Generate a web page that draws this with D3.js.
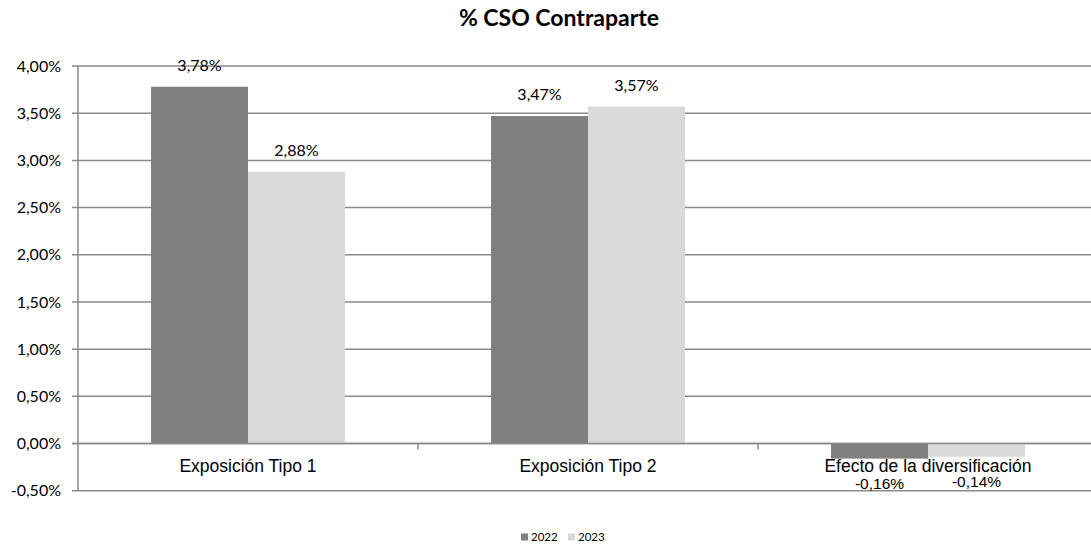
<!DOCTYPE html>
<html><head><meta charset="utf-8">
<script src="https://cdn.jsdelivr.net/npm/d3@7"></script>
<style>body{margin:0;background:#fff}svg{display:block}</style>
</head><body>
<svg id="c" width="1091" height="545"></svg>
<script>
const categories = ["Exposición Tipo 1", "Exposición Tipo 2", "Efecto de la diversificación"];
const seriesNames = ["2022", "2023"];
const values2022 = [3.78, 3.47, -0.16];
const values2023 = [2.88, 3.57, -0.14];
const yTicks = [-0.5, 0, 0.5, 1, 1.5, 2, 2.5, 3, 3.5, 4];
const colors = ["#808080", "#d9d9d9"];

(function(){
const svg = d3.select("#c");
const pLeft = 78, pRight = 1098, pTop = 66, pBottom = 490.7;
const x = d3.scaleBand().domain(categories).range([pLeft, pRight]).paddingInner(0).paddingOuter(0);
const y = d3.scaleLinear().domain([-0.5, 4]).range([pBottom, pTop]);
const xs = d3.scaleBand().domain(seriesNames).range([0, x.bandwidth()]).paddingInner(0).paddingOuter(0.753);
const fmt = v => d3.format(".2f")(v).replace(".", ",").replace("\u2212", "-") + "%";
const calib = "Lato, 'Open Sans', sans-serif";
const arial = "'Liberation Sans', Arial, sans-serif";

svg.append("g").selectAll("line").data(yTicks).join("line")
  .attr("x1", pLeft - 6).attr("x2", pRight).attr("y1", d => y(d)).attr("y2", d => y(d))
  .attr("stroke", "#8a8a8a").attr("stroke-width", 1.5);

svg.append("g").selectAll("text").data(yTicks).join("text")
  .attr("x", 61).attr("y", d => y(d)).attr("dy", "0.35em").attr("text-anchor", "end")
  .attr("font-family", calib).attr("font-size", 16).attr("fill", "#000")
  .text(fmt);

svg.append("line").attr("x1", pLeft).attr("x2", pLeft).attr("y1", pTop).attr("y2", pBottom)
  .attr("stroke", "#8a8a8a").attr("stroke-width", 1.5);

const series = [values2022, values2023];
series.forEach((vals, si) => {
  svg.append("g").selectAll("rect").data(vals).join("rect")
    .attr("x", (d, i) => x(categories[i]) + xs(seriesNames[si]))
    .attr("width", xs.bandwidth())
    .attr("y", d => y(Math.max(0, d)))
    .attr("height", d => Math.abs(y(d) - y(0)))
    .attr("fill", colors[si]);
});

svg.append("line").attr("x1", pLeft - 6).attr("x2", pRight).attr("y1", y(0)).attr("y2", y(0))
  .attr("stroke", "#8a8a8a").attr("stroke-width", 1.5);

svg.append("g").selectAll("line").data(categories.slice(1)).join("line")
  .attr("x1", d => x(d)).attr("x2", d => x(d)).attr("y1", y(0)).attr("y2", y(0) + 6)
  .attr("stroke", "#8a8a8a").attr("stroke-width", 1.5);

svg.append("g").selectAll("text").data(categories).join("text")
  .attr("x", d => x(d) + x.bandwidth() / 2).attr("y", y(0) + 28)
  .attr("text-anchor", "middle").attr("font-family", arial)
  .attr("font-size", 17.5).attr("fill", "#000").text(d => d);

series.forEach((vals, si) => {
  svg.append("g").selectAll("text").data(vals).join("text")
    .attr("x", (d, i) => x(categories[i]) + xs(seriesNames[si]) + xs.bandwidth() / 2)
    .attr("y", d => d >= 0 ? y(d) - 16 : y(0) + 45 - (si === 1 ? 2 : 0))
    .attr("text-anchor", "middle")
    .attr("font-family", d => d >= 0 ? calib : arial)
    .attr("font-size", d => d >= 0 ? 16 : 15.5).attr("fill", "#000").text(fmt);
});

svg.append("text").attr("x", 559).attr("y", 26).attr("text-anchor", "middle")
  .attr("font-family", calib).attr("font-weight", "bold")
  .attr("font-size", 23).attr("fill", "#000").text("% CSO Contraparte");

const lg = svg.append("g").attr("transform", "translate(521,537)");
seriesNames.forEach((s, i) => {
  const g = lg.append("g").attr("transform", `translate(${i * 47},0)`);
  g.append("rect").attr("x", 0).attr("y", -3.5).attr("width", 7).attr("height", 7).attr("fill", colors[i]);
  g.append("text").attr("x", 10).attr("y", 0).attr("dy", "0.35em")
    .attr("font-family", calib).attr("font-size", 11.5).attr("fill", "#000").text(s);
});
})();
</script>
</body></html>
